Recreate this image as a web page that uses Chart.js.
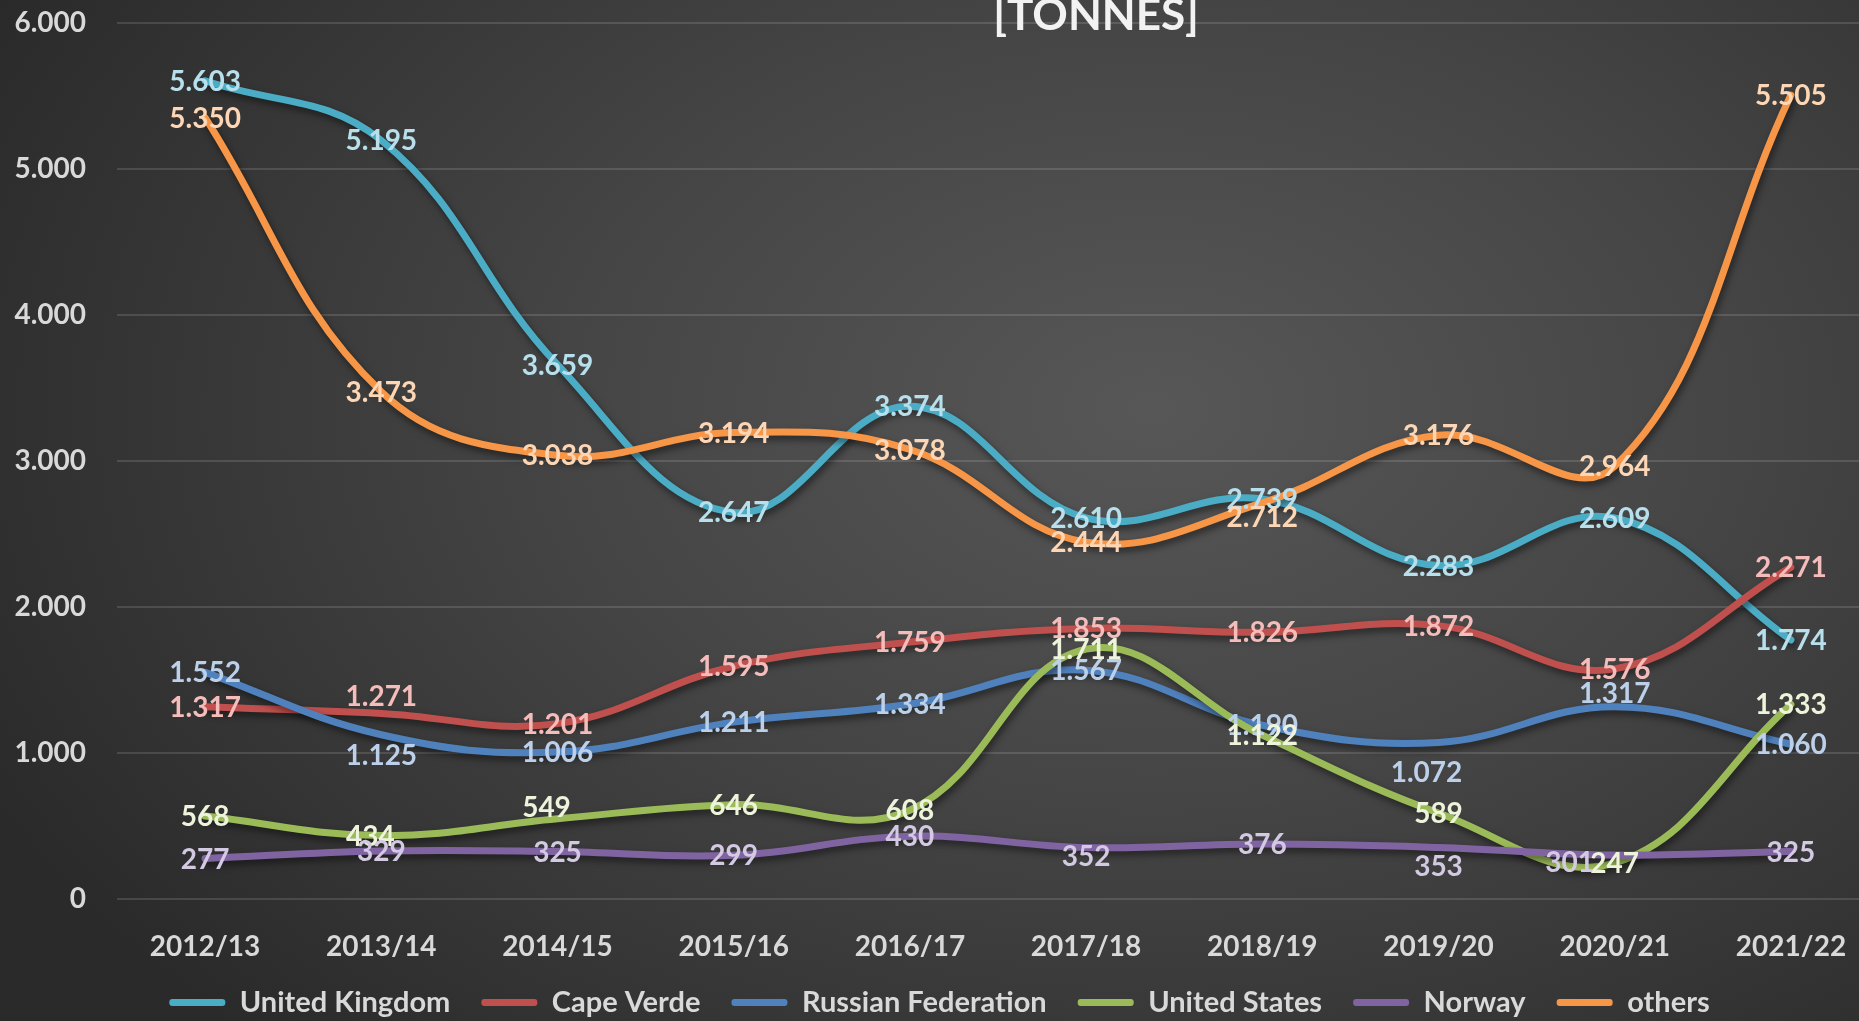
<!DOCTYPE html>
<html>
<head>
<meta charset="utf-8">
<script src="https://cdn.jsdelivr.net/npm/chart.js@4"></script>
<style>
  html, body { margin: 0; padding: 0; }
  body {
    width: 1859px; height: 1021px; overflow: hidden; position: relative;
    background: radial-gradient(ellipse 70% 85% at 62% 40%, #575757 0%, #454545 45%, #2a2a2a 100%);
  }
  #wrap { position: absolute; left: 0; top: -25px; width: 1930px; height: 1052px; }
  #title {
    position: absolute; left: 1096px; top: -9px; transform: translateX(-50%);
    font: bold 44px Lato, sans-serif; line-height: 44px; color: #f2f2f2;
    white-space: nowrap; z-index: 2;
  }
</style>
</head>
<body>
<div id="title">[TONNES]</div>
<div id="wrap"><canvas id="chLine"></canvas></div>
<script>
// data
const seasons = ["2012/13", "2013/14", "2014/15", "2015/16", "2016/17", "2017/18", "2018/19", "2019/20", "2020/21", "2021/22"];
const unitedKingdom = [5603, 5195, 3659, 2647, 3374, 2610, 2739, 2283, 2609, 1774];
const capeVerde = [1317, 1271, 1201, 1595, 1759, 1853, 1826, 1872, 1576, 2271];
const russia = [1552, 1125, 1006, 1211, 1334, 1567, 1190, 1072, 1317, 1060];
const unitedStates = [568, 434, 549, 646, 608, 1711, 1122, 589, 247, 1333];
const norway = [277, 329, 325, 299, 430, 352, 376, 353, 301, 325];
const others = [5350, 3473, 3038, 3194, 3078, 2444, 2712, 3176, 2964, 5505];
const yTicks = [0, 1000, 2000, 3000, 4000, 5000, 6000];

const FONT = "Lato, sans-serif";
const TEXT = "#d9d9d9";

function fmt(v) {
  return String(v).replace(/\B(?=(\d{3})+(?!\d))/g, ".");
}

// series: name, values, line colour, label colour
const series = [
  ["United Kingdom", unitedKingdom, "#4bacc6", "#b7e0ec"],
  ["Cape Verde", capeVerde, "#c0504d", "#f4bcba"],
  ["Russian Federation", russia, "#4f81bd", "#bcd0ea"],
  ["United States", unitedStates, "#9bbb59", "#eef4dc"],
  ["Norway", norway, "#8064a2", "#d4c9e2"],
  ["others", others, "#f79646", "#fdd6b6"],
];

// hand moved labels, like in the excel original (dataset index -> point index -> [dx, dy])
const labelShift = {
  1: { 1: [0, -17] },
  2: { 1: [0, 20], 7: [-12, 30], 8: [0, -14] },
  3: { 1: [-11, 0], 2: [-11, -12] },
  4: { 5: [0, 8], 7: [0, 19], 8: [-45, 7] },
  5: { 6: [0, 14] },
};

const shadowPlugin = {
  id: "shadow",
  beforeDatasetDraw(chart) {
    const ctx = chart.ctx;
    ctx.save();
    ctx.shadowColor = "rgba(0,0,0,0.5)";
    ctx.shadowBlur = 7;
    ctx.shadowOffsetX = 2;
    ctx.shadowOffsetY = 4;
  },
  afterDatasetDraw(chart) {
    chart.ctx.restore();
  },
};

const labelPlugin = {
  id: "valueLabels",
  afterDatasetsDraw(chart) {
    const ctx = chart.ctx;
    ctx.save();
    ctx.font = "bold 28px " + FONT;
    ctx.textAlign = "center";
    ctx.textBaseline = "middle";
    chart.data.datasets.forEach(function (ds, i) {
      const meta = chart.getDatasetMeta(i);
      ctx.fillStyle = series[i][3];
      meta.data.forEach(function (pt, j) {
        const s = (labelShift[i] && labelShift[i][j]) || [0, 0];
        ctx.fillText(fmt(ds.data[j]), pt.x + s[0], pt.y + s[1] + 1);
      });
    });
    ctx.restore();
  },
};

const config = {
  type: "line",
  data: {
    labels: seasons,
    datasets: series.map(function (s, i) {
      return {
        label: s[0],
        data: s[1],
        borderColor: s[2],
        backgroundColor: s[2],
        borderWidth: 7,
        pointRadius: 0,
        tension: 0.4,
        borderCapStyle: "round",
        order: series.length - i,
      };
    }),
  },
  options: {
    responsive: true,
    maintainAspectRatio: false,
    animation: false,
    layout: { padding: { top: 0, right: 51, bottom: 0, left: 0 } },
    plugins: {
      tooltip: { enabled: false },
      legend: {
        position: "bottom",
        labels: {
          color: TEXT,
          font: { family: FONT, size: 29, weight: "bold" },
          boxWidth: 56,
          boxHeight: 7,
          useBorderRadius: true,
          borderRadius: 3,
          padding: 31,
          sort: function (a, b) { return a.datasetIndex - b.datasetIndex; },
          generateLabels: function (chart) {
            return Chart.defaults.plugins.legend.labels.generateLabels(chart).map(function (l) {
              l.lineWidth = 0;
              return l;
            });
          },
        },
      },
    },
    scales: {
      x: {
        offset: true,
        grid: { display: false },
        border: { display: false },
        ticks: { color: TEXT, font: { family: FONT, size: 28, weight: "bold" }, padding: 23, maxRotation: 0 },
        afterFit: function (s) { s.height = 58; },
      },
      y: {
        min: 0,
        max: 6000,
        afterBuildTicks: function (s) { s.ticks = yTicks.map(function (v) { return { value: v }; }); },
        grid: { color: "rgba(255,255,255,0.13)", lineWidth: 2, drawTicks: false },
        border: { display: false },
        ticks: {
          color: TEXT,
          font: { family: FONT, size: 28, weight: "bold" },
          padding: 31,
          callback: function (v) { return fmt(v); },
        },
        afterFit: function (s) { s.width = 117; },
      },
    },
  },
  plugins: [shadowPlugin, labelPlugin],
};

var myChart = new Chart(document.getElementById("chLine"), config);
</script>
</body>
</html>
